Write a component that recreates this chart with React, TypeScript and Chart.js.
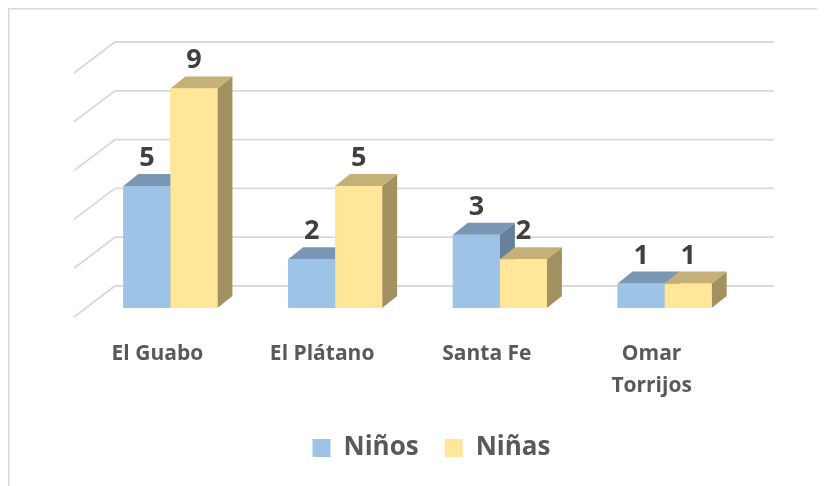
import React, { useEffect, useRef } from 'react';
import { Chart, registerables } from 'chart.js';

Chart.register(...registerables);

const categories: (string | string[])[] = ['El Guabo', 'El Plátano', 'Santa Fe', ['Omar', 'Torrijos']];
const seriesNames = ['Niños', 'Niñas'];
const ninos = [5, 2, 3, 1];
const ninas = [9, 5, 2, 1];
const gridValues = [0, 2, 4, 6, 8, 10];

const FRONT = ['#9DC3E6', '#FFE699'];
const TOP = ['#7A96B5', '#C5B078'];
const SIDE = ['#657F9C', '#A39261'];
const DEPTH = { dx: 15, dy: -12 };
const WALL = { dx: 27, dy: -22 };
const SIDEWALL = { dx: -41, dy: 31 };
const FONT = "'Open Sans'";

const bars3d = {
  id: 'bars3d',
  afterLayout(chart: any) {
    if (chart.legend) {
      chart.legend.left += 14;
      chart.legend.right += 14;
    }
  },
  beforeDraw(chart: any) {
    const ctx = chart.ctx;
    ctx.save();
    ctx.fillStyle = '#FFFFFF';
    ctx.fillRect(0, 0, chart.width, chart.height);
    ctx.strokeStyle = '#D9D9D9';
    ctx.lineWidth = 1.5;
    ctx.beginPath();
    ctx.moveTo(0.75, chart.height);
    ctx.lineTo(0.75, 0.75);
    ctx.lineTo(chart.width, 0.75);
    ctx.stroke();
    ctx.restore();
  },
  beforeDatasetsDraw(chart: any) {
    const ctx = chart.ctx;
    const ys = chart.scales.y;
    const { left, right } = chart.chartArea;
    ctx.save();
    ctx.strokeStyle = '#D9D9D9';
    ctx.lineWidth = 1.8;
    for (const v of gridValues) {
      const py = ys.getPixelForValue(v) + WALL.dy;
      const bx0 = left + WALL.dx;
      const bx1 = right + WALL.dx;
      ctx.beginPath();
      ctx.moveTo(bx1, py);
      ctx.lineTo(bx0, py);
      ctx.lineTo(bx0 + SIDEWALL.dx, py + SIDEWALL.dy);
      ctx.stroke();
    }
    ctx.restore();
  },
  afterDatasetsDraw(chart: any) {
    const ctx = chart.ctx;
    const n = chart.data.labels.length;
    const labels: { x: number; y: number; text: string }[] = [];
    ctx.save();
    for (let i = 0; i < n; i++) {
      chart.data.datasets.forEach((ds: any, d: number) => {
        const el = chart.getDatasetMeta(d).data[i];
        const { x, y, base, width } = el.getProps(['x', 'y', 'base', 'width'], true);
        const x1 = x - width / 2;
        const x2 = x + width / 2;
        ctx.fillStyle = SIDE[d];
        ctx.beginPath();
        ctx.moveTo(x2, y);
        ctx.lineTo(x2 + DEPTH.dx, y + DEPTH.dy);
        ctx.lineTo(x2 + DEPTH.dx, base + DEPTH.dy);
        ctx.lineTo(x2, base);
        ctx.closePath();
        ctx.fill();
        ctx.fillStyle = TOP[d];
        ctx.beginPath();
        ctx.moveTo(x1, y);
        ctx.lineTo(x2, y);
        ctx.lineTo(x2 + DEPTH.dx, y + DEPTH.dy);
        ctx.lineTo(x1 + DEPTH.dx, y + DEPTH.dy);
        ctx.closePath();
        ctx.fill();
        ctx.fillStyle = FRONT[d];
        ctx.fillRect(x1, y, width, base - y);
        labels.push({ x, y: y + DEPTH.dy - 8, text: String(ds.data[i]) });
      });
    }
    ctx.fillStyle = '#404040';
    ctx.font = `bold 27px ${FONT}`;
    ctx.textAlign = 'center';
    ctx.textBaseline = 'alphabetic';
    for (const l of labels) ctx.fillText(l.text, l.x, l.y);
    ctx.restore();
  },
};

export default function App() {
  const ref = useRef<HTMLCanvasElement | null>(null);
  useEffect(() => {
    if (!ref.current) return;
    const chart = new Chart(ref.current, {
      type: 'bar',
      data: {
        labels: categories,
        datasets: [
          { label: seriesNames[0], data: ninos, backgroundColor: FRONT[0], borderWidth: 0 },
          { label: seriesNames[1], data: ninas, backgroundColor: FRONT[1], borderWidth: 0 },
        ],
      },
      options: {
        animation: false,
        responsive: true,
        maintainAspectRatio: false,
        layout: { padding: { top: 56, left: 80, right: 78, bottom: 15 } },
        datasets: { bar: { categoryPercentage: 0.571, barPercentage: 1 } },
        scales: {
          x: {
            grid: { display: false, drawTicks: false },
            border: { display: false },
            ticks: {
              autoSkip: false,
              maxRotation: 0,
              labelOffset: -13,
              padding: 30,
              color: '#595959',
              font: { family: FONT, weight: 'bold', size: 21, lineHeight: 32 / 21 },
            },
            afterFit(scale: any) {
              scale.height = 101;
            },
          },
          y: { display: false, min: 0, max: 10 },
        },
        plugins: {
          legend: {
            position: 'bottom',
            labels: {
              boxWidth: 18,
              boxHeight: 18,
              padding: 26,
              color: '#595959',
              font: { family: FONT, weight: 'bold', size: 26 },
            },
          },
          tooltip: { enabled: false },
        },
      },
      plugins: [bars3d],
    });
    return () => chart.destroy();
  }, []);
  return (
    <div style={{ width: 817, height: 478 }}>
      <canvas ref={ref} />
    </div>
  );
}
